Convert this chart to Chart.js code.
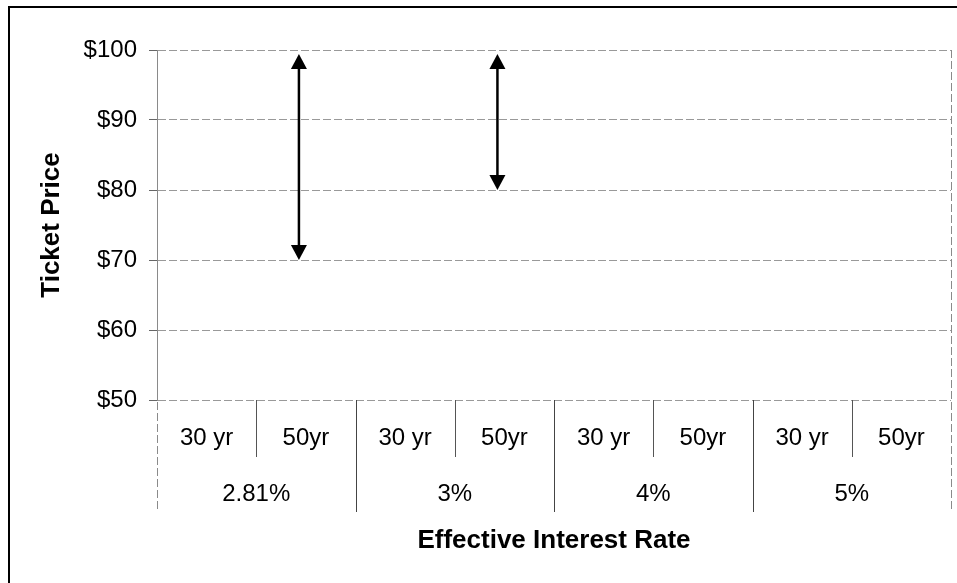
<!DOCTYPE html>
<html>
<head>
<meta charset="utf-8">
<script src="https://cdn.jsdelivr.net/npm/chart.js@4/dist/chart.umd.min.js"></script>
<style>
  html, body { margin: 0; padding: 0; background: #fff; }
  #wrap { width: 957px; height: 583px; position: relative; }
</style>
</head>
<body>
<div id="wrap"><canvas id="c" width="957" height="583"></canvas></div>
<script>
// ---- data ----
const terms = ['30 yr', '50yr', '30 yr', '50yr', '30 yr', '50yr', '30 yr', '50yr'];
const rates = ['2.81%', '3%', '4%', '5%'];
const rangeLow  = [null, 70, null, 80, null, null, null, null];
const rangeHigh = [null, 100, null, 100, null, null, null, null];
const yTicks = [50, 60, 70, 80, 90, 100];
const yTitle = 'Ticket Price';
const xTitle = 'Effective Interest Rate';

const ranges = rangeLow.map((lo, i) => (lo === null ? null : [lo, rangeHigh[i]]));

const FONT = "'Liberation Sans', Arial, sans-serif";

const decorPlugin = {
  id: 'decor',
  beforeDraw(chart) {
    const ctx = chart.ctx;
    ctx.save();
    ctx.fillStyle = '#fff';
    ctx.fillRect(0, 0, chart.width, chart.height);
    // outer frame (left + top)
    ctx.strokeStyle = '#000';
    ctx.lineWidth = 2;
    ctx.beginPath();
    ctx.moveTo(9, chart.height);
    ctx.lineTo(9, 7);
    ctx.lineTo(chart.width, 7);
    ctx.stroke();
    ctx.restore();
  },
  afterDraw(chart) {
    const ctx = chart.ctx;
    const xs = chart.scales.x;
    const x2 = chart.scales.x2;
    const area = chart.chartArea;
    const n = terms.length;
    const step = (xs.getPixelForValue(1) - xs.getPixelForValue(0));
    ctx.save();
    ctx.lineWidth = 1;
    for (let i = 0; i <= n; i++) {
      const px = Math.round(xs.getPixelForValue(0) - step / 2 + i * step) + 0.5;
      const isGroup = i % 2 === 0;
      const yEnd = isGroup ? x2.top + 55 : xs.bottom;
      ctx.strokeStyle = isGroup ? '#444' : '#555';
      ctx.beginPath();
      if (i === 0 || i === n) {
        ctx.strokeStyle = '#8a8a8a';
        ctx.setLineDash([8, 3]);
        ctx.moveTo(px, area.top);
      } else {
        ctx.setLineDash([]);
        ctx.moveTo(px, area.bottom);
      }
      ctx.lineTo(px, yEnd);
      ctx.stroke();
    }
    ctx.setLineDash([]);
    // arrows from the range dataset
    const meta = chart.getDatasetMeta(0);
    meta.data.forEach((bar, i) => {
      if (!ranges[i]) return;
      const x = bar.x;
      const yTop = Math.min(bar.y, bar.base) + 4;
      const yBot = Math.max(bar.y, bar.base);
      const hw = 8, hh = 15;
      ctx.strokeStyle = '#000';
      ctx.fillStyle = '#000';
      ctx.lineWidth = 2.5;
      ctx.beginPath();
      ctx.moveTo(x, yTop + hh - 1);
      ctx.lineTo(x, yBot - hh + 1);
      ctx.stroke();
      ctx.beginPath();
      ctx.moveTo(x, yTop);
      ctx.lineTo(x - hw, yTop + hh);
      ctx.lineTo(x + hw, yTop + hh);
      ctx.closePath();
      ctx.fill();
      ctx.beginPath();
      ctx.moveTo(x, yBot);
      ctx.lineTo(x - hw, yBot - hh);
      ctx.lineTo(x + hw, yBot - hh);
      ctx.closePath();
      ctx.fill();
    });
    ctx.restore();
  }
};

new Chart(document.getElementById('c'), {
  type: 'bar',
  data: {
    labels: terms,
    datasets: [
      { data: ranges, backgroundColor: 'rgba(0,0,0,0)', borderWidth: 0, barPercentage: 1, categoryPercentage: 0.28 },
      { data: terms.map(() => null), backgroundColor: 'rgba(0,0,0,0)', barPercentage: 1, categoryPercentage: 0.28 }
    ]
  },
  options: {
    responsive: false,
    animation: false,
    events: [],
    layout: { padding: { left: 0, top: 50, right: 6, bottom: 0 } },
    plugins: { legend: { display: false }, tooltip: { enabled: false } },
    scales: {
      y: {
        min: 50, max: 100,
        afterBuildTicks(scale) { scale.ticks = yTicks.map(v => ({ value: v })); },
        afterFit(scale) { scale.width = 157; },
        border: { display: true, color: '#8a8a8a', width: 1, dash: [8, 3] },
        grid: { color: '#999', lineWidth: 1, drawTicks: true, tickLength: 8, tickColor: '#666' },
        ticks: {
          color: '#000', padding: 12,
          font: { family: FONT, size: 24 },
          callback: v => '$' + v
        },
        title: {
          display: true, text: yTitle, color: '#000',
          font: { family: FONT, size: 26, weight: 'bold' },
          padding: { top: 36, bottom: 0 }
        }
      },
      x: {
        type: 'category',
        position: 'bottom',
        offset: true,
        afterFit(scale) { scale.height = 57; },
        border: { display: false },
        grid: { display: false, drawTicks: false },
        ticks: {
          color: '#000', padding: 24, autoSkip: false, maxRotation: 0, minRotation: 0,
          font: { family: FONT, size: 24 }
        }
      },
      x2: {
        type: 'category',
        position: 'bottom',
        labels: rates,
        offset: true,
        afterFit(scale) { scale.height = 126; },
        border: { display: false },
        grid: { display: false, drawTicks: false },
        ticks: {
          color: '#000', padding: 23, autoSkip: false, maxRotation: 0, minRotation: 0,
          font: { family: FONT, size: 24 }
        },
        title: {
          display: true, text: xTitle, color: '#000',
          font: { family: FONT, size: 26, weight: 'bold' },
          padding: { top: 0, bottom: 27 }
        }
      }
    }
  },
  plugins: [decorPlugin]
});
</script>
</body>
</html>
